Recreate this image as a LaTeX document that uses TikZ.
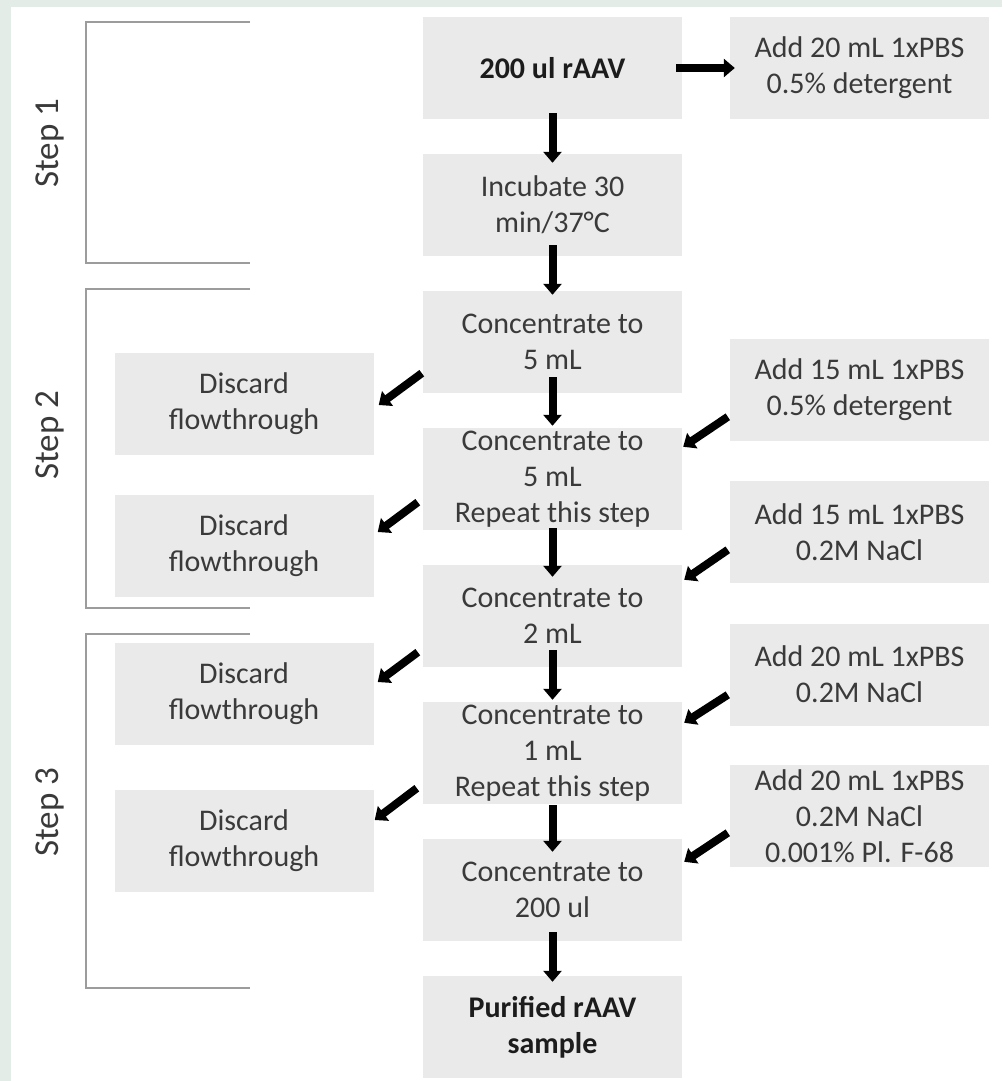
\documentclass[tikz,border=0pt]{standalone}
\usepackage{fontspec}
\setmainfont{Carlito}
\usetikzlibrary{arrows.meta,calc}
\definecolor{boxfill}{HTML}{EAEAEA}
\definecolor{txt}{HTML}{3A3A3A}
\definecolor{btxt}{HTML}{1C1C1C}
\definecolor{brk}{HTML}{9C9C9C}
\definecolor{wm}{HTML}{E3ECE6}
\begin{document}
\begin{tikzpicture}[x=1pt,y=-1pt,
  box/.style={fill=boxfill, draw=none, minimum width=259pt, minimum height=102pt,
    inner sep=0pt, align=center, text=txt, font=\fontsize{30}{36}\selectfont},
  bbox/.style={box, text=btxt, font=\fontsize{30}{36}\selectfont\bfseries},
  arr/.style={line width=8pt, -{Triangle[length=11pt,width=18pt]}, black},
  brack/.style={draw=brk, line width=1.8pt},
  steplbl/.style={rotate=90, text=txt, font=\fontsize{35}{42}\selectfont}
]
\useasboundingbox (0,0) rectangle (1002,1081);
\fill[white] (0,0) rectangle (1002,1081);
\fill[wm] (0,0) rectangle (1002,7);
\fill[wm] (0,0) rectangle (11,1081);

% brackets
\draw[brack] (250,22) -- (86,22) -- (86,263) -- (250,263);
\draw[brack] (250,289) -- (86,289) -- (86,608) -- (250,608);
\draw[brack] (250,634) -- (86,634) -- (86,988) -- (250,988);
\node[steplbl] (s1) at (50,143) {Step 1};
\node[steplbl] (s2) at (50,435) {Step 2};
\node[steplbl] (s3) at (50,812) {Step 3};

% centre column
\node[bbox] (b1) at (552.5,68) {200 ul rAAV};
\node[box] (b2) at (552.5,205) {Incubate 30\\min/37°C};
\node[box] (b3) at (552.5,342) {Concentrate to\\5 mL};
\node[box] (b4) at (552.5,479) {Concentrate to\\5 mL\\Repeat this step};
\node[box] (b5) at (552.5,616) {Concentrate to\\2 mL};
\node[box] (b6) at (552.5,753) {Concentrate to\\1 mL\\Repeat this step};
\node[box] (b7) at (552.5,890) {Concentrate to\\200 ul};
\node[bbox] (b8) at (552.5,1027) {Purified rAAV\\sample};

% right column
\node[box] (r1) at (859.5,68) {Add 20 mL 1xPBS\\0.5\% detergent};
\node[box] (r2) at (859.5,389.5) {Add 15 mL 1xPBS\\0.5\% detergent};
\node[box] (r3) at (859.5,532) {Add 15 mL 1xPBS\\0.2M NaCl};
\node[box] (r4) at (859.5,674.5) {Add 20 mL 1xPBS\\0.2M NaCl};
\node[box] (r5) at (859.5,816) {Add 20 mL 1xPBS\\0.2M NaCl\\0.001\% Pl. F-68};

% left column
\node[box] (d1) at (244,403.5) {Discard\\flowthrough};
\node[box] (d2) at (244,545.5) {Discard\\flowthrough};
\node[box] (d3) at (244,693.5) {Discard\\flowthrough};
\node[box] (d4) at (244,840.5) {Discard\\flowthrough};

% vertical arrows
\draw[arr] ($(b1.south)+(0,-6)$) -- ($(b2.north)+(0,9)$);
\draw[arr] ($(b2.south)+(0,-11)$) -- ($(b3.north)+(0,4)$);
\draw[arr] ($(b3.south)+(0,-16)$) -- ($(b4.north)+(0,-2)$);
\draw[arr] ($(b4.south)+(0,-2)$) -- ($(b5.north)+(0,12)$);
\draw[arr] ($(b5.south)+(0,-17)$) -- ($(b6.north)+(0,-2)$);
\draw[arr] ($(b6.south)+(0,1)$) -- ($(b7.north)+(0,13)$);
\draw[arr] ($(b7.south)+(0,-9)$) -- ($(b8.north)+(0,6)$);

% horizontal arrow
\draw[arr] ($(b1.east)+(-6,0)$) -- ($(r1.west)+(5,0)$);

% right diagonal arrows
\draw[arr] ($(b4.north -| r2.west)+(-2,-11)$) -- ($(b4.north east)+(1,19)$);
\draw[arr] ($(b5.north -| r3.west)+(-2,-15)$) -- ($(b5.north east)+(2,15)$);
\draw[arr] ($(b6.north -| r4.west)+(-2,-7)$) -- ($(b6.north east)+(2,21)$);
\draw[arr] ($(b7.north -| r5.west)+(-2,-6)$) -- ($(b7.north east)+(2,23)$);

% left diagonal arrows
\draw[arr] ($(b3.south west)+(-1,-20)$) -- ($(d1.east)+(5,1.5)$);
\draw[arr] ($(b4.south west)+(-5,-28)$) -- ($(d2.east)+(4,-13.5)$);
\draw[arr] ($(b5.south west)+(-5,-15)$) -- ($(d3.east)+(4,-11.5)$);
\draw[arr] ($(b6.south west)+(-6,-16)$) -- ($(d4.east)+(1,-20.5)$);
\end{tikzpicture}
\end{document}
